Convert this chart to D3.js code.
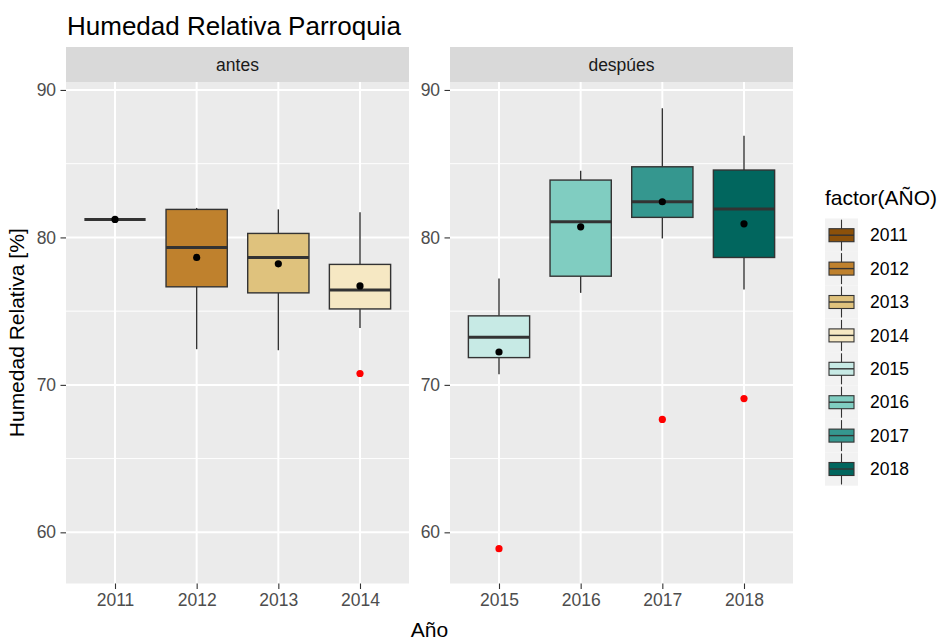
<!DOCTYPE html>
<html><head><meta charset="utf-8">
<script src="https://cdn.jsdelivr.net/npm/d3@7/dist/d3.min.js"></script>
<style>
body{margin:0;background:#fff}
text{font-family:"Liberation Sans",Arial,sans-serif}
</style>
</head><body>
<svg id="chart" width="944" height="641"></svg>
<script>
// ---- data ----
const years = ["2011","2012","2013","2014","2015","2016","2017","2018"];
const phases = ["antes","antes","antes","antes","despúes","despúes","despúes","despúes"];
const panelNames = ["antes","despúes"];
const lowerWhisker = [81.22, 72.42, 72.35, 73.86, 70.72, 76.24, 79.93, 76.47];
const q1           = [81.22, 76.65, 76.24, 75.15, 71.85, 77.37, 81.36, 78.64];
const medians      = [81.22, 79.32, 78.64, 76.44, 73.23, 81.06, 82.42, 81.92];
const q3           = [81.22, 81.90, 80.27, 78.17, 74.68, 83.89, 84.79, 84.57];
const upperWhisker = [81.22, 82.00, 81.90, 81.70, 77.22, 84.52, 88.76, 86.90];
const means        = [81.22, 78.64, 78.21, 76.71, 72.23, 80.72, 82.42, 80.92];
const outliers     = [[], [], [], [70.77], [58.89], [], [67.66], [69.07]];
const yTicks = [60, 70, 80, 90];
const yMinor = [65, 75, 85];
const palette = ["#8C510A","#BF812D","#DFC27D","#F6E8C3","#C7EAE5","#80CDC1","#35978F","#01665E"];

const title = "Humedad Relativa Parroquia";
const xTitle = "Año";
const yTitle = "Humedad Relativa [%]";
const legendTitle = "factor(AÑO)";

// ---- layout ----
const svg = d3.select("#chart");
const panelTop = 82, panelBottom = 583.5, stripTop = 47;
const panels = [{name: panelNames[0], x0: 66, x1: 409}, {name: panelNames[1], x0: 450, x1: 793}];

const y = d3.scaleLinear().domain([56.53, 90.54]).range([panelBottom, panelTop]);
const boxStroke = "#333333";
const rows = years.map((yr, i) => ({yr, i, phase: phases[i], lw: lowerWhisker[i], q1: q1[i], med: medians[i], q3: q3[i], uw: upperWhisker[i], mean: means[i], out: outliers[i], fill: palette[i]}));

// title
svg.append("text").attr("x", 67).attr("y", 35).attr("font-size", 26).attr("fill", "#000").text(title);

panels.forEach(p => {
  const data = rows.filter(r => r.phase === p.name);
  const x = d3.scaleBand().domain(data.map(d => d.yr)).range([p.x0, p.x1]).paddingOuter(0.1).paddingInner(0);
  // scaleBand with outer padding so that center spacing = step; ggplot expand 0.6 -> use point scale
  const xp = d3.scalePoint().domain(data.map(d => d.yr)).range([p.x0, p.x1]).padding(0.6);
  const step = xp.step();
  const bw = step * 0.75;
  const g = svg.append("g");

  // panel bg
  g.append("rect").attr("x", p.x0).attr("y", panelTop).attr("width", p.x1 - p.x0).attr("height", panelBottom - panelTop).attr("fill", "#EBEBEB");
  // minor grid
  yMinor.forEach(v => g.append("line").attr("x1", p.x0).attr("x2", p.x1).attr("y1", y(v)).attr("y2", y(v)).attr("stroke", "#fff").attr("stroke-width", 1));
  // major grid
  yTicks.forEach(v => g.append("line").attr("x1", p.x0).attr("x2", p.x1).attr("y1", y(v)).attr("y2", y(v)).attr("stroke", "#fff").attr("stroke-width", 2));
  data.forEach(d => g.append("line").attr("x1", xp(d.yr)).attr("x2", xp(d.yr)).attr("y1", panelTop).attr("y2", panelBottom).attr("stroke", "#fff").attr("stroke-width", 2));

  // strip
  g.append("rect").attr("x", p.x0).attr("y", stripTop).attr("width", p.x1 - p.x0).attr("height", panelTop - stripTop).attr("fill", "#D9D9D9");
  g.append("text").attr("x", (p.x0 + p.x1) / 2).attr("y", (stripTop + panelTop) / 2).attr("dy", "0.35em").attr("text-anchor", "middle").attr("font-size", 17.5).attr("fill", "#1A1A1A").text(p.name);

  // y axis
  const ya = d3.axisLeft(y).tickValues(yTicks).tickSize(5.5).tickPadding(4.4);
  const yg = svg.append("g").attr("transform", `translate(${p.x0},0)`).call(ya);
  yg.select(".domain").remove();
  yg.selectAll(".tick line").attr("stroke", "#333333").attr("stroke-width", 1.1);
  yg.selectAll(".tick text").attr("font-size", 17.5).attr("fill", "#4D4D4D").attr("font-family", "Liberation Sans, Arial, sans-serif");

  // x axis
  const xa = d3.axisBottom(xp).tickSize(5.5).tickPadding(4.4);
  const xg = svg.append("g").attr("transform", `translate(0,${panelBottom})`).call(xa);
  xg.select(".domain").remove();
  xg.selectAll(".tick line").attr("stroke", "#333333").attr("stroke-width", 1.1);
  xg.selectAll(".tick text").attr("font-size", 17.5).attr("fill", "#4D4D4D").attr("font-family", "Liberation Sans, Arial, sans-serif");

  // boxes
  const b = g.selectAll("g.box").data(data).join("g").attr("class", "box");
  b.append("line").attr("x1", d => xp(d.yr)).attr("x2", d => xp(d.yr)).attr("y1", d => y(d.uw)).attr("y2", d => y(d.q3)).attr("stroke", boxStroke).attr("stroke-width", 1.4);
  b.append("line").attr("x1", d => xp(d.yr)).attr("x2", d => xp(d.yr)).attr("y1", d => y(d.q1)).attr("y2", d => y(d.lw)).attr("stroke", boxStroke).attr("stroke-width", 1.4);
  b.append("rect").attr("x", d => xp(d.yr) - bw / 2).attr("width", bw).attr("y", d => y(d.q3)).attr("height", d => y(d.q1) - y(d.q3)).attr("fill", d => d.fill).attr("stroke", boxStroke).attr("stroke-width", 1.4);
  b.append("line").attr("x1", d => xp(d.yr) - bw / 2).attr("x2", d => xp(d.yr) + bw / 2).attr("y1", d => y(d.med)).attr("y2", d => y(d.med)).attr("stroke", boxStroke).attr("stroke-width", 3);
  // outliers
  b.each(function(d) {
    d3.select(this).selectAll("circle.out").data(d.out).join("circle").attr("class", "out").attr("cx", xp(d.yr)).attr("cy", v => y(v)).attr("r", 3.6).attr("fill", "#FF0000");
  });
  // means
  b.append("circle").attr("cx", d => xp(d.yr)).attr("cy", d => y(d.mean)).attr("r", 3.6).attr("fill", "#000");
});

// axis titles
svg.append("text").attr("x", (66 + 793) / 2).attr("y", 637).attr("text-anchor", "middle").attr("font-size", 21).attr("fill", "#000").text(xTitle);
svg.append("text").attr("transform", `translate(24,${(panelTop + panelBottom) / 2}) rotate(-90)`).attr("text-anchor", "middle").attr("font-size", 21).attr("fill", "#000").text(yTitle);

// legend
const lg = svg.append("g");
lg.append("text").attr("x", 825).attr("y", 205).attr("font-size", 21).attr("fill", "#000").text(legendTitle);
const keyStep = 33.4, keyY0 = 218.5, keyX = 825, keyW = 33;
const ly = d3.scaleBand().domain(years).range([keyY0, keyY0 + keyStep * years.length]);
years.forEach((yr, i) => {
  const top = ly(yr), cy = top + keyStep / 2, cx = keyX + keyW / 2;
  lg.append("rect").attr("x", keyX).attr("y", top).attr("width", keyW).attr("height", keyStep).attr("fill", "#F2F2F2");
  lg.append("line").attr("x1", cx).attr("x2", cx).attr("y1", cy - 15.5).attr("y2", cy + 15.5).attr("stroke", boxStroke).attr("stroke-width", 1.1);
  lg.append("rect").attr("x", keyX + 4).attr("y", cy - 6.5).attr("width", keyW - 8).attr("height", 13).attr("fill", palette[i]).attr("stroke", boxStroke).attr("stroke-width", 1.1);
  lg.append("line").attr("x1", keyX + 4).attr("x2", keyX + keyW - 4).attr("y1", cy).attr("y2", cy).attr("stroke", boxStroke).attr("stroke-width", 1.4);
  lg.append("text").attr("x", 870).attr("y", cy).attr("dy", "0.35em").attr("font-size", 17.5).attr("fill", "#000").text(yr);
});
</script>
</body></html>
